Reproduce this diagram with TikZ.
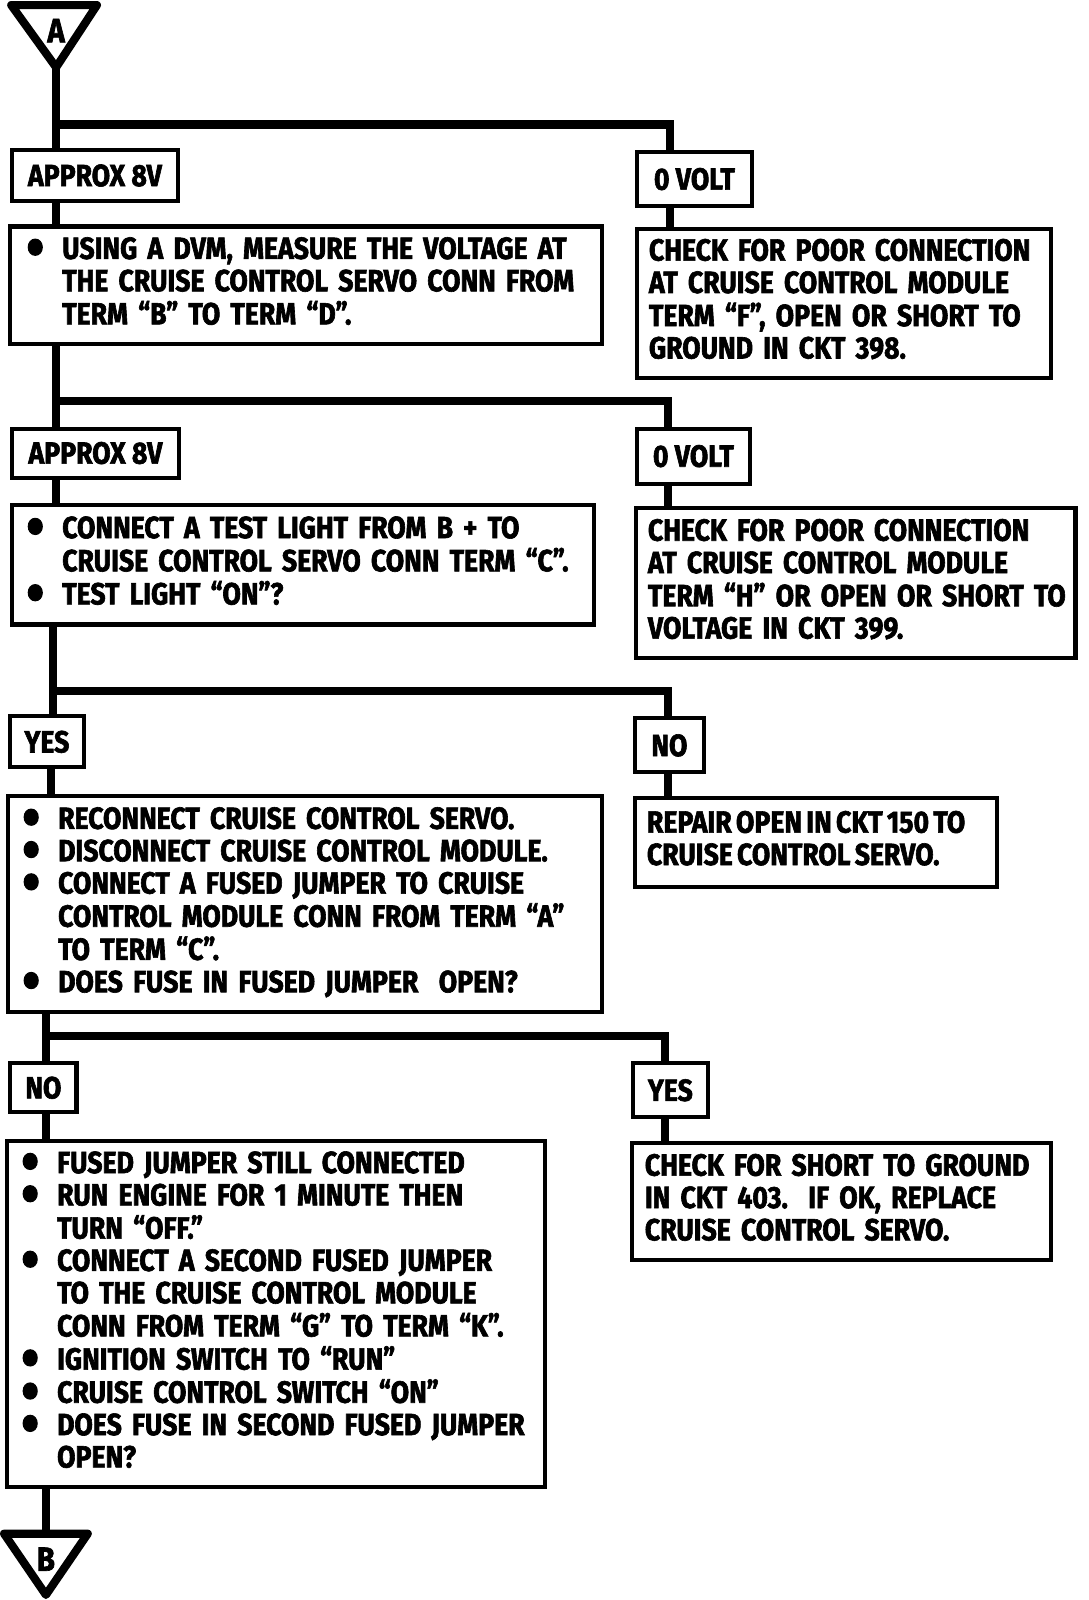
\documentclass[tikz,border=0pt]{standalone}
\usepackage{fontspec}
\newfontfamily\chartfont[FakeStretch=0.87, BoldFeatures={FakeBold=2}]{Fira Sans}

\newcommand{\bul}{\makebox[35pt][l]{\raisebox{-8pt}{\scalebox{1.9}{\textbullet}}}}
\newcommand{\ind}{\hspace*{35pt}}
\newcommand{\steplines}[1]{\begin{tabular}{@{}l@{}}#1\end{tabular}}

\tikzset{
  chartbox/.style={
    draw,
    line width = 4pt,
    anchor = north west,
    inner xsep = 14pt,
    inner ysep = 0pt,
    font = \chartfont\bfseries\fontsize{30pt}{31.7pt}\selectfont,
  },
  stepbox/.style={
    chartbox,
    align = left,
  },
  marker/.style={
    font = \chartfont\bfseries\fontsize{33pt}{33pt}\selectfont,
    inner sep = 0,
  },
  flow/.style={line width = 8pt},
}

\begin{document}
\begin{tikzpicture}[x=1pt, y=-1pt]
  \useasboundingbox (0,0) rectangle (1066.24,1568);

  % entry and exit markers
  \draw[line width = 8pt, line join = round] (11,5) -- (95,5) -- (55,66) -- cycle;
  \node[marker] (tA) at (55,30) {A};
  \coordinate (tipA) at (55,66);
  \draw[line width = 8pt, line join = round] (4,1503) -- (86,1503) -- (45,1563) -- cycle;
  \node[marker] (tB) at (45,1528) {B};
  \coordinate (topB) at (45,1503);

  % result labels
  \foreach \name/\x/\y/\w/\h/\txt in {
    v1/10/145/162/50/{APPROX 8V},
    z1/622/147/113/53/{0 VOLT},
    v2/10/418/163/48/{APPROX 8V},
    z2/622/418/111/54/{0 VOLT},
    v3/8/700/72/50/{YES},
    z3/620/702/68/53/{NO},
    v4/8/1040/65/48/{NO},
    z4/618/1040/74/53/{YES}
  }{
    \node[
      chartbox,
      inner xsep = 0pt,
      minimum width = \w pt,
      minimum height = \h pt,
    ] (\name) at (\x,\y) {\txt};
  }

  % left column
  \node[stepbox, inner xsep = 16pt, text width = 548pt, minimum height = 115pt] (a1) at (8,220)
    {\steplines{\bul USING A DVM, MEASURE THE VOLTAGE AT\\
     \ind THE CRUISE CONTROL SERVO CONN FROM\\
     \ind TERM “B” TO TERM “D”.}};
  \node[stepbox, text width = 542pt, minimum height = 117pt] (a2) at (10,493)
    {\steplines{\bul CONNECT A TEST LIGHT FROM B + TO\\
     \ind CRUISE CONTROL SERVO CONN TERM “C”.\\
     \bul TEST LIGHT “ON”?}};
  \node[stepbox, text width = 554pt, minimum height = 212pt] (a3) at (6,778)
    {\steplines{\bul RECONNECT CRUISE CONTROL SERVO.\\
     \bul DISCONNECT CRUISE CONTROL MODULE.\\
     \bul CONNECT A FUSED JUMPER TO CRUISE\\
     \ind CONTROL MODULE CONN FROM TERM “A”\\
     \ind TO TERM “C”.\\
     \bul DOES FUSE IN FUSED JUMPER\ \ OPEN?}};
  \node[stepbox, text width = 499pt, minimum height = 339pt] (a4) at (5,1116)
    {\steplines{\bul FUSED JUMPER STILL CONNECTED\\
     \bul RUN ENGINE FOR 1 MINUTE THEN\\
     \ind TURN “OFF.”\\
     \bul CONNECT A SECOND FUSED JUMPER\\
     \ind TO THE CRUISE CONTROL MODULE\\
     \ind CONN FROM TERM “G” TO TERM “K”.\\
     \bul IGNITION SWITCH TO “RUN”\\
     \bul CRUISE CONTROL SWITCH “ON”\\
     \bul DOES FUSE IN SECOND FUSED JUMPER\\
     \ind OPEN?}};

  % right column
  \node[stepbox, inner xsep = 12pt, text width = 382pt, minimum height = 146pt] (b1) at (622,222)
    {\steplines{CHECK FOR POOR CONNECTION\\
     AT CRUISE CONTROL MODULE\\
     TERM “F”, OPEN OR SHORT TO\\
     GROUND IN CKT 398.}};
  \node[stepbox, inner xsep = 12pt, text width = 407pt, minimum height = 147pt] (b2) at (621,496)
    {\steplines{CHECK FOR POOR CONNECTION\\
     AT CRUISE CONTROL MODULE\\
     TERM “H” OR OPEN OR SHORT TO\\
     VOLTAGE IN CKT 399.}};
  \node[stepbox, inner xsep = 12pt, text width = 331pt, minimum height = 87pt] (b3) at (620,780)
    {\spaceskip=0.14em\relax
     \steplines{REPAIR OPEN IN CKT 150 TO\\
     CRUISE CONTROL SERVO.}};
  \node[stepbox, inner xsep = 13pt, text width = 385pt, minimum height = 115pt] (b4) at (617,1118)
    {\steplines{CHECK FOR SHORT TO GROUND\\
     IN CKT 403.\ \ IF OK, REPLACE\\
     CRUISE CONTROL SERVO.}};

  % branch points
  \coordinate (j1) at (55,122);
  \coordinate (k1) at (657,122);
  \coordinate (j2) at (55,393);
  \coordinate (k2) at (655,393);
  \coordinate (j3) at (52,677);
  \coordinate (k3) at (655,677);
  \coordinate (j4) at (45,1015);
  \coordinate (k4) at (652,1015);
  \coordinate (m3) at (50,740);

  % trunk
  \draw[flow] (tipA) -- (tipA |- v1.north);
  \draw[flow] (tipA |- v1.south) -- (tipA |- a1.north);
  \draw[flow] (j2 |- a1.south) -- (j2 |- v2.north);
  \draw[flow] (j2 |- v2.south) -- (j2 |- a2.north);
  \draw[flow] (j3 |- a2.south) -- (j3 |- v3.north);
  \draw[flow] (m3 |- v3.south) -- (m3 |- a3.north);
  \draw[flow] (j4 |- a3.south) -- (j4 |- v4.north);
  \draw[flow] (j4 |- v4.south) -- (j4 |- a4.north);
  \draw[flow] (topB |- a4.south) -- (topB);

  % side branches
  \foreach \i in {1,2,3,4}{
    \draw[flow, line cap = rect] (j\i) -- (k\i);
    \draw[flow] (k\i) -- (k\i |- z\i.north);
    \draw[flow] (k\i |- z\i.south) -- (k\i |- b\i.north);
  }
\end{tikzpicture}
\end{document}
